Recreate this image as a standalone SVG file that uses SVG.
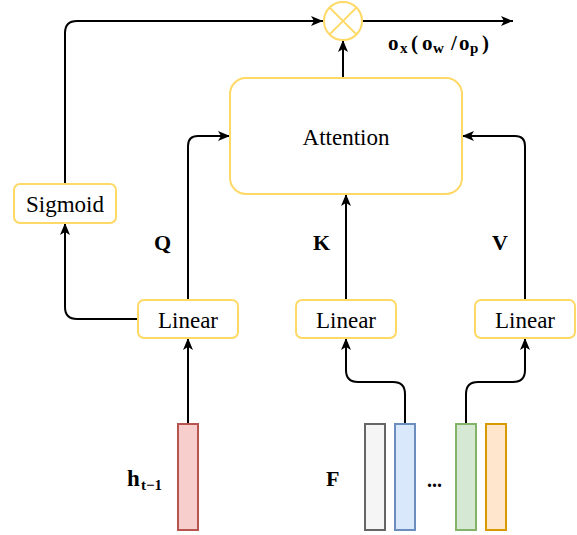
<svg xmlns="http://www.w3.org/2000/svg" width="577" height="535" viewBox="0 0 577 535" font-family="'Liberation Serif', 'Times New Roman', serif">
  <style>
    .box { fill: #ffffff; stroke: #ffd966; stroke-width: 2; }
    .lbl { font-size: 23px; fill: #000; text-anchor: middle; dominant-baseline: central; }
    .math { font-weight: bold; fill: #000; }
    .edge { fill: none; stroke: #000; stroke-width: 2; }
    .arr { marker-end: url(#head); }
  </style>
  <defs>
    <marker id="head" viewBox="0 0 12 10" refX="12" refY="5" markerWidth="12" markerHeight="10" markerUnits="userSpaceOnUse" orient="auto">
      <path d="M0,0 L12,5 L0,10 L3,5 z" fill="#000"/>
    </marker>
  </defs>

  <!-- connectors -->
  <g id="edges">
    <path class="edge arr" d="M65,184 L65,33 Q65,21 77,21 L323,21"/>
    <path class="edge arr" d="M362,21 L513,21"/>
    <path class="edge arr" d="M343,78 L343,40"/>
    <path class="edge arr" d="M188,300 L188,146 Q188,136 198,136 L230,136"/>
    <path class="edge arr" d="M346,300 L346,194"/>
    <path class="edge arr" d="M525,300 L525,146 Q525,136 515,136 L462,136"/>
    <path class="edge arr" d="M138,319 L77,319 Q65,319 65,307 L65,223"/>
    <path class="edge arr" d="M188,424 L188,338"/>
    <path class="edge arr" d="M405,424 L405,394 Q405,382 393,382 L358,382 Q346,382 346,370 L346,338"/>
    <path class="edge arr" d="M466,424 L466,394 Q466,382 478,382 L513,382 Q525,382 525,370 L525,338"/>
  </g>

  <!-- multiply node -->
  <g id="mult">
    <circle cx="343" cy="21" r="19" fill="#fff" stroke="#ffd966" stroke-width="2"/>
    <path d="M329.6,7.6 L356.4,34.4 M356.4,7.6 L329.6,34.4" stroke="#ffd966" stroke-width="2"/>
  </g>

  <g id="attention">
    <rect class="box" x="230" y="78" width="232" height="116" rx="16"/>
    <text class="lbl" x="346" y="137">Attention</text>
  </g>

  <g id="sigmoid">
    <rect class="box" x="14" y="184" width="102" height="39" rx="6"/>
    <text class="lbl" x="65" y="204">Sigmoid</text>
  </g>

  <g id="linear-q">
    <rect class="box" x="138" y="300" width="100" height="38" rx="6"/>
    <text class="lbl" x="188" y="320">Linear</text>
  </g>
  <g id="linear-k">
    <rect class="box" x="296" y="300" width="100" height="38" rx="6"/>
    <text class="lbl" x="346" y="320">Linear</text>
  </g>
  <g id="linear-v">
    <rect class="box" x="475" y="300" width="100" height="38" rx="6"/>
    <text class="lbl" x="525" y="320">Linear</text>
  </g>

  <!-- input vectors -->
  <g id="h-prev">
    <rect x="178" y="424" width="20" height="106" fill="#f8cecc" stroke="#b85450" stroke-width="2"/>
  </g>
  <g id="feat-1">
    <rect x="365" y="424" width="20" height="106" fill="#f5f5f5" stroke="#666666" stroke-width="2"/>
  </g>
  <g id="feat-2">
    <rect x="395" y="424" width="20" height="106" fill="#dae8fc" stroke="#6c8ebf" stroke-width="2"/>
  </g>
  <g id="feat-3">
    <rect x="456" y="424" width="20" height="106" fill="#d5e8d4" stroke="#82b366" stroke-width="2"/>
  </g>
  <g id="feat-4">
    <rect x="486" y="424" width="20" height="106" fill="#ffe6cc" stroke="#d79b00" stroke-width="2"/>
  </g>

  <!-- labels -->
  <g id="labels" class="math">
    <text x="154" y="250" font-size="22">Q</text>
    <text x="313" y="250" font-size="22">K</text>
    <text x="492" y="250" font-size="22">V</text>
    <text x="326" y="486" font-size="22">F</text>
    <text x="427" y="487" font-size="20">...</text>
    <text x="127" y="486" font-size="23">h</text>
    <text x="141" y="490" font-size="15">t−1</text>
    <text x="388" y="50" font-size="21">o</text>
    <text x="400" y="53" font-size="15">x</text>
    <text x="411" y="50" font-size="21">(</text>
    <text x="422" y="50" font-size="21">o</text>
    <text x="433" y="53" font-size="15">w</text>
    <text x="451" y="50" font-size="21">/</text>
    <text x="459" y="50" font-size="21">o</text>
    <text x="470" y="53" font-size="15">p</text>
    <text x="482" y="50" font-size="21">)</text>
  </g>
</svg>
